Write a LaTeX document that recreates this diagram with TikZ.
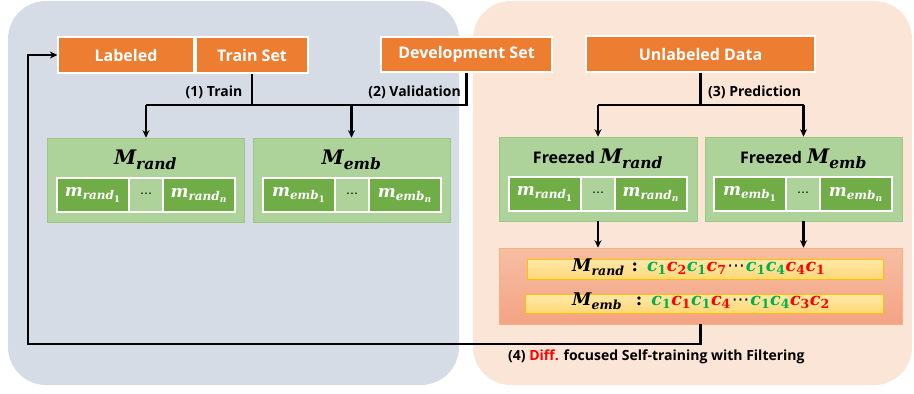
\documentclass[tikz,border=0pt]{standalone}
\usepackage{amsmath}
\usepackage[no-math]{fontspec}
\setmainfont{Open Sans}
\newfontfamily\dvs{DejaVu Serif}
\newfontfamily\djs{DejaVu Sans}
\usetikzlibrary{arrows.meta}
\DeclareMathSizes{20}{20}{15.5}{11}
\DeclareMathSizes{17}{17}{12}{9}
\DeclareMathSizes{17.5}{17.5}{12.5}{9}
\definecolor{panelL}{HTML}{D6DCE5}
\definecolor{panelR}{HTML}{FBE5D6}
\definecolor{orng}{HTML}{ED7D31}
\definecolor{lgreen}{HTML}{ADD29A}
\definecolor{gborder}{HTML}{9CC883}
\definecolor{dgreen}{HTML}{70AD47}
\definecolor{cg}{HTML}{00B050}
\definecolor{cr}{HTML}{FF0000}
\definecolor{predtop}{HTML}{F6BEA2}
\definecolor{predbot}{HTML}{F4A383}
\definecolor{predborder}{HTML}{F4B183}
\definecolor{bartop}{HTML}{FFE9A8}
\definecolor{barbot}{HTML}{FFD878}
\definecolor{barborder}{HTML}{FFC000}
\newcommand{\bi}[1]{\text{\dvs\bfseries\itshape #1}}
\newcommand{\bd}[1]{\text{\dvs\bfseries #1}}
\newcommand{\cgc}[1]{\textcolor{cg}{$\bi{c}_{\bd{#1}}$}}
\newcommand{\crc}[1]{\textcolor{cr}{$\bi{c}_{\bd{#1}}$}}
\newcommand{\mydots}{{\djs ⋯}}
\tikzset{
  databox/.style={fill=orng, draw=white, line width=1.2pt, text=white,
    font=\bfseries\fontsize{16}{18}\selectfont, inner sep=0pt},
  modelbox/.style={fill=lgreen, draw=gborder, line width=0.6pt, inner sep=0pt},
  cellbox/.style={fill=dgreen, draw=white, line width=1.3pt, text=white,
    minimum height=34pt, minimum width=72pt, inner sep=0pt,
    font=\fontsize{17}{17}\selectfont},
  midcell/.style={cellbox, fill=lgreen, text=black, minimum width=34pt,
    font=\fontsize{12}{12}\selectfont},
  plainline/.style={line width=2.2pt},
  conn/.style={line width=2.2pt, -{Stealth[length=7.5pt,width=7pt]}},
  lbl/.style={font=\bfseries\fontsize{14}{16}\selectfont, inner sep=0pt},
  titlebox/.style={inner sep=0pt, font=\fontsize{20}{20}\selectfont},
  barbox/.style={top color=bartop, bottom color=barbot, draw=barborder, line width=0.6pt, inner sep=0pt},
  seqtext/.style={anchor=west, inner sep=0pt, font=\fontsize{17.5}{17.5}\selectfont},
}
\begin{document}
\begin{tikzpicture}[x=1pt,y=-1pt]
\useasboundingbox (0,0) rectangle (914,394);
% panels
\fill[panelL, rounded corners=38pt] (8,1) rectangle (459,385);
\fill[panelR, rounded corners=38pt] (473,1) rectangle (912,385);

% data boxes
\node[databox, minimum width=136pt, minimum height=36pt] (lab) at (126,55) {Labeled};
\node[databox, minimum width=112pt, minimum height=36pt] (train) at (252,55) {Train Set};
\node[databox, minimum width=171pt, minimum height=35pt] (dev) at (466.5,54.5) {Development Set};
\node[databox, minimum width=229pt, minimum height=36pt] (unl) at (700.5,54) {Unlabeled Data};

% model boxes (left)
\node[modelbox, minimum width=197pt, minimum height=84pt] (mr) at (145.5,180) {};
\node[modelbox, minimum width=197pt, minimum height=84pt] (me) at (351.5,180) {};
\node[titlebox] (tmr) at (145.5,160) {$\bi{M}_{\bi{rand}}$};
\node[titlebox] (tme) at (351.5,160) {$\bi{M}_{\bi{emb}}$};
\node[cellbox] (mr1) at (93,195) {$\bi{m}_{\bi{rand}_{\bd{1}}}$};
\node[midcell] (mr2) at (146,195) {\mydots};
\node[cellbox] (mr3) at (199,195) {$\bi{m}_{\bi{rand}_{\bi{n}}}$};
\node[cellbox] (me1) at (299,195) {$\bi{m}_{\bi{emb}_{\bd{1}}}$};
\node[midcell] (me2) at (352,195) {\mydots};
\node[cellbox] (me3) at (405,195) {$\bi{m}_{\bi{emb}_{\bi{n}}}$};

% model boxes (right, frozen)
\node[modelbox, minimum width=198pt, minimum height=84pt] (fmr) at (598,179) {};
\node[modelbox, minimum width=197pt, minimum height=84pt] (fme) at (803.5,179) {};
\node[titlebox] (tfmr) at (598,159) {{\bfseries\fontsize{16}{18}\selectfont Freezed} $\bi{M}_{\bi{rand}}$};
\node[titlebox] (tfme) at (803.5,159) {{\bfseries\fontsize{16}{18}\selectfont Freezed} $\bi{M}_{\bi{emb}}$};
\node[cellbox] (fmr1) at (545,194) {$\bi{m}_{\bi{rand}_{\bd{1}}}$};
\node[midcell] (fmr2) at (598,194) {\mydots};
\node[cellbox] (fmr3) at (651,194) {$\bi{m}_{\bi{rand}_{\bi{n}}}$};
\node[cellbox] (fme1) at (750,194) {$\bi{m}_{\bi{emb}_{\bd{1}}}$};
\node[midcell] (fme2) at (803,194) {\mydots};
\node[cellbox] (fme3) at (856,194) {$\bi{m}_{\bi{emb}_{\bi{n}}}$};

% prediction box
\node[top color=predtop, bottom color=predbot, draw=predborder, line width=0.6pt,
  minimum width=403pt, minimum height=76pt, inner sep=0pt] (pred) at (700.5,286) {};
\node[barbox, minimum width=356pt, minimum height=20pt] (bar1) at (705,269) {};
\node[barbox, minimum width=358pt, minimum height=19pt] (bar2) at (704,303.5) {};
\node[seqtext] (seq1) at (572,267)
  {$\bi{M}_{\bi{rand}}$\hspace{7pt}\bd{:}\hspace{9pt}\cgc1\crc2\cgc1\crc7\hspace{1pt}\mydots\hspace{1pt}\cgc1\cgc4\crc4\crc1};
\node[seqtext] (seq2) at (572,301)
  {$\bi{M}_{\bi{emb}}$\hspace{14pt}\bd{:}\hspace{9pt}\cgc1\crc1\cgc1\crc4\hspace{1pt}\mydots\hspace{1pt}\cgc1\cgc4\crc3\crc2};

% connectors: training / validation
\coordinate (h1) at (146,105);
\draw[plainline] (train.south) -- (train.south |- h1);
\draw[plainline] (dev.south) |- (h1);
\draw[conn] (h1) -- (h1 |- mr.north);
\draw[conn] (me.north |- h1) -- (me.north);
% prediction
\coordinate (h2) at (700.5,105);
\draw[plainline] (unl.south) -- (h2);
\draw[plainline] (fmr.north |- h2) -- (fme.north |- h2);
\draw[conn] (fmr.north |- h2) -- (fmr.north);
\draw[conn] (fme.north |- h2) -- (fme.north);
% to prediction box
\draw[conn] (fmr.south) -- (fmr.south |- pred.north);
\draw[conn] (fme.south) -- (fme.south |- pred.north);
% feedback
\coordinate (fb) at (28,344);
\draw[conn] (pred.south) |- (fb) |- (lab.west);

% labels
\node[lbl] (l1) at (214,92) {(1) Train};
\node[lbl, anchor=east] (l2) at (461,92) {(2) Validation};
\node[lbl, anchor=west] (l3) at (708,92) {(3) Prediction};
\node[lbl, anchor=west] (l4) at (508,357) {(4) \textcolor{cr}{Diff.} focused Self-training with Filtering};
\end{tikzpicture}
\end{document}
